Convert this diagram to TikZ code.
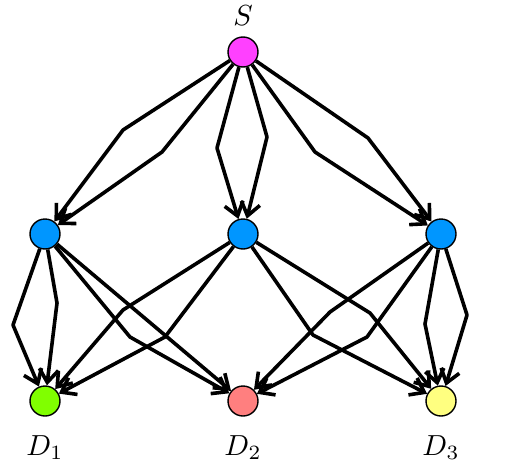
\documentclass[tikz,border=0pt]{standalone}
\usetikzlibrary{arrows.meta}

\begin{document}
\begin{tikzpicture}[x=1pt, y=-1pt, vtx/.style={circle, draw, line width=1.4pt, minimum size=30pt, inner sep=0pt}, arrow/.style={-{Straight Barb[length=13pt, width=19pt]}, line width=3.6pt, line join=round}, lbl/.style={anchor=base, scale=2.9}]

\useasboundingbox (0,0) rectangle (519,463);
\definecolor{srccol}{HTML}{FF40FF}\definecolor{midcol}{HTML}{0096FF}
\definecolor{dacol}{HTML}{80FF00}\definecolor{dbcol}{HTML}{FF7F7F}\definecolor{dccol}{HTML}{FFFF80}

\node[vtx, fill=srccol] (s) at (243,52) {};
\node[vtx, fill=midcol] (m1) at (45,234) {};
\node[vtx, fill=midcol] (m2) at (243,234) {};
\node[vtx, fill=midcol] (m3) at (441,234) {};
\node[vtx, fill=dacol] (d1) at (45,401) {};
\node[vtx, fill=dbcol] (d2) at (243,401) {};
\node[vtx, fill=dccol] (d3) at (441,401) {};
\node[lbl] (ls) at (243,25) {$S$};
\node[lbl] (ld1) at (45,455) {$D_1$};
\node[lbl] (ld2) at (243,455) {$D_2$};
\node[lbl] (ld3) at (441,455) {$D_3$};

\draw[arrow] (s)--(123,130)--(m1);\draw[arrow] (s)--(162,152)--(m1);
\draw[arrow] (s)--(217,148)--(m2);\draw[arrow] (s)--(267,137)--(m2);
\draw[arrow] (s)--(315,152)--(m3);\draw[arrow] (s)--(368,138)--(m3);
\draw[arrow] (m1)--(13,325)--(d1);\draw[arrow] (m1)--(57,303)--(d1);
\draw[arrow] (m1)--(d2);\draw[arrow] (m1)--(130,337)--(d2);
\draw[arrow] (m2)--(123,310)--(d1);\draw[arrow] (m2)--(165,337)--(d1);
\draw[arrow] (m2)--(313,335)--(d3);\draw[arrow] (m2)--(370,313)--(d3);
\draw[arrow] (m3)--(330,312)--(d2);\draw[arrow] (m3)--(367,337)--(d2);
\draw[arrow] (m3)--(425,324)--(d3);\draw[arrow] (m3)--(467,315)--(d3);

\end{tikzpicture}
\end{document}
